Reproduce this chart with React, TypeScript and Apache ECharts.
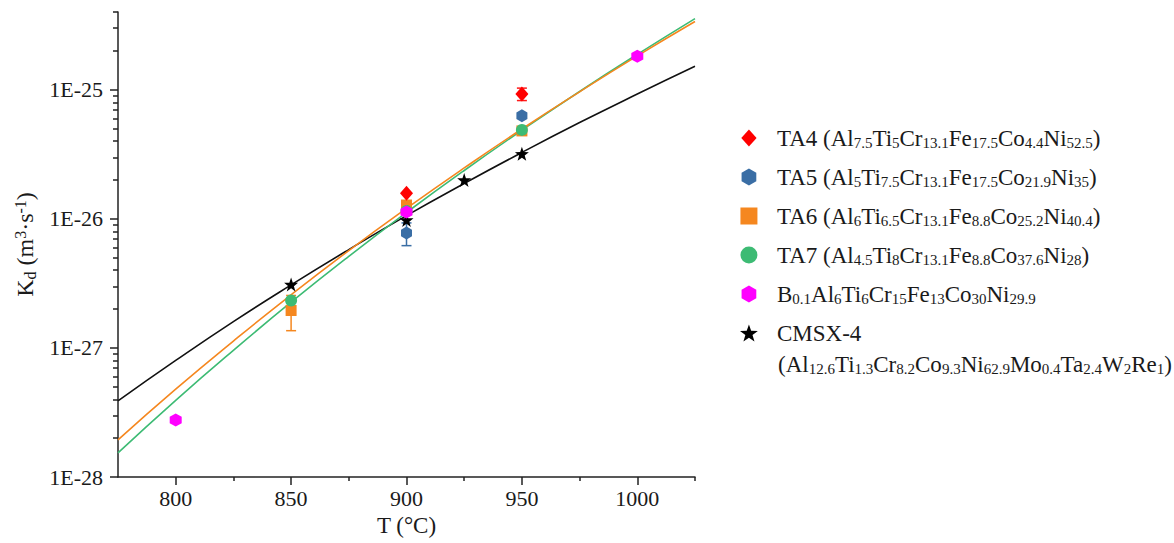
import React, { useEffect, useRef } from 'react';
import * as echarts from 'echarts';

// ---- data (K in m^3/s, T in °C) ----
const fitTemps = [775, 800, 825, 850, 875, 900, 925, 950, 975, 1000, 1025];
const fitTA6 = [1.94e-28, 4.79e-28, 1.13e-27, 2.58e-27, 5.68e-27, 1.205e-26, 2.48e-26, 4.97e-26, 9.64e-26, 1.83e-25, 3.38e-25];
const fitTA7 = [1.54e-28, 3.93e-28, 9.59e-28, 2.26e-27, 5.12e-27, 1.12e-26, 2.37e-26, 4.86e-26, 9.7e-26, 1.88e-25, 3.56e-25];
const fitCMSX4 = [3.89e-28, 8.0e-28, 1.6e-27, 3.08e-27, 5.78e-27, 1.06e-26, 1.88e-26, 3.27e-26, 5.57e-26, 9.27e-26, 1.52e-25];

const ta4T = [900, 950];
const ta4K = [1.58e-26, 9.26e-26];
const ta5T = [900, 950];
const ta5K = [7.78e-27, 6.28e-26];
const ta6T = [850, 900, 950];
const ta6K = [1.95e-27, 1.28e-26, 4.8e-26];
const ta7T = [850, 900, 950];
const ta7K = [2.33e-27, 1.15e-26, 4.89e-26];
const bT = [800, 900, 1000];
const bK = [2.77e-28, 1.13e-26, 1.82e-25];
const cmsxT = [850, 900, 925, 950];
const cmsxK = [3.1e-27, 9.8e-27, 2.0e-26, 3.19e-26];

// error bars: [T, low, high]
const ta4Err = [[950, 8.25e-26, 1.03e-25]];
const ta5Err = [[900, 6.2e-27, 9.3e-27]];
const ta6Err = [[850, 1.36e-27, 2.55e-27]];

const xTickLabels = [800, 850, 900, 950, 1000];
const xMinorTicks = [825, 875, 925, 975, 1025];
const yDecades = [-28, -27, -26, -25];
const yMax = 4e-25;

const legendLabels: Record<string, string> = {
  TA4: 'TA4 (Al{s|7.5}Ti{s|5}Cr{s|13.1}Fe{s|17.5}Co{s|4.4}Ni{s|52.5})',
  TA5: 'TA5 (Al{s|5}Ti{s|7.5}Cr{s|13.1}Fe{s|17.5}Co{s|21.9}Ni{s|35})',
  TA6: 'TA6 (Al{s|6}Ti{s|6.5}Cr{s|13.1}Fe{s|8.8}Co{s|25.2}Ni{s|40.4})',
  TA7: 'TA7 (Al{s|4.5}Ti{s|8}Cr{s|13.1}Fe{s|8.8}Co{s|37.6}Ni{s|28})',
  B: 'B{s|0.1}Al{s|6}Ti{s|6}Cr{s|15}Fe{s|13}Co{s|30}Ni{s|29.9}',
  'CMSX-4': 'CMSX-4',
};
const cmsxComposition = '(Al{s|12.6}Ti{s|1.3}Cr{s|8.2}Co{s|9.3}Ni{s|62.9}Mo{s|0.4}Ta{s|2.4}W{s|2}Re{s|1})';

const FONT = '"Liberation Serif", "DejaVu Serif", serif';
const TXT = '#1a1a1a';

const lg = (v: number) => Math.log10(v);
const pts = (t: number[], k: number[]) => t.map((x, i) => [x, lg(k[i])]);

const HEX = 'path://M0,-1L0.866,-0.5L0.866,0.5L0,1L-0.866,0.5L-0.866,-0.5Z';
const STAR =
  'path://M0,-1L0.235,-0.324L0.951,-0.309L0.38,0.124L0.588,0.809L0,0.4L-0.588,0.809L-0.38,0.124L-0.951,-0.309L-0.235,-0.324Z';
const DIAMOND = 'path://M0,-1L0.9,0L0,1L-0.9,0Z';
const SQUARE = 'path://M0,0L1,0L1,1L0,1Z';
const CIRCLE = 'path://M1,0A1,1,0,1,1,-1,0A1,1,0,1,1,1,0Z';

const subRich = {
  s: { fontSize: 15, fontFamily: FONT, color: TXT, lineHeight: 10, verticalAlign: 'bottom' },
};

function errSeries(data: number[][], color: string) {
  return {
    type: 'custom',
    data: data.map((d) => [d[0], lg(d[1]), lg(d[2])]),
    encode: { x: 0, y: [1, 2] },
    z: 3,
    renderItem: (_p: any, api: any) => {
      const x = api.value(0);
      const lo = api.coord([x, api.value(1)]);
      const hi = api.coord([x, api.value(2)]);
      const hw = 5;
      const style = { stroke: color, lineWidth: 1.5 };
      return {
        type: 'group',
        children: [
          { type: 'line', shape: { x1: lo[0], y1: lo[1], x2: hi[0], y2: hi[1] }, style },
          { type: 'line', shape: { x1: lo[0] - hw, y1: lo[1], x2: lo[0] + hw, y2: lo[1] }, style },
          { type: 'line', shape: { x1: hi[0] - hw, y1: hi[1], x2: hi[0] + hw, y2: hi[1] }, style },
        ],
      };
    },
  };
}

function minorLogTicks(): number[] {
  const out: number[] = [];
  for (let k = -28; k <= -26; k++) for (let m = 2; m <= 9; m++) out.push(k + Math.log10(m));
  for (let m = 2; m <= 4; m++) out.push(-25 + Math.log10(m));
  return out;
}

export default function App() {
  const ref = useRef<HTMLDivElement>(null);
  useEffect(() => {
    if (!ref.current) return;
    const chart = echarts.init(ref.current, null, { renderer: 'svg' });
    const yMaxLog = lg(yMax) + 0.0005;
    const axisLineStyle = { color: '#222', width: 1.5 };
    const option: any = {
      animation: false,
      backgroundColor: '#fff',
      textStyle: { fontFamily: FONT },
      grid: { left: 118, right: 479, top: 12, bottom: 66, containLabel: false },
      xAxis: [
        {
          type: 'value',
          position: 'bottom',
          min: 775,
          max: 1025,
          name: 'T (°C)',
          nameLocation: 'middle',
          nameGap: 32,
          nameTextStyle: { fontSize: 23, fontFamily: FONT, color: TXT },
          axisLine: { show: true, onZero: false, lineStyle: axisLineStyle },
          axisTick: { show: true, inside: false, length: 8, customValues: xTickLabels, lineStyle: axisLineStyle },
          axisLabel: {
            customValues: xTickLabels,
            fontSize: 22,
            fontFamily: FONT,
            color: TXT,
            margin: 10,
            formatter: (v: number) => String(v),
          },
          splitLine: { show: false },
        },
        {
          type: 'value',
          position: 'bottom',
          min: 775,
          max: 1025,
          axisLine: { show: false, onZero: false },
          axisTick: { show: true, inside: false, length: 4, customValues: xMinorTicks, lineStyle: axisLineStyle },
          axisLabel: { show: false },
          splitLine: { show: false },
        },
      ],
      yAxis: [
        {
          type: 'value',
          position: 'left',
          min: -28,
          max: yMaxLog,
          name: 'K{d|d} (m{u|3}·s{u|-1})',
          nameLocation: 'middle',
          nameGap: 80,
          nameTextStyle: {
            fontSize: 24,
            fontFamily: FONT,
            color: TXT,
            lineHeight: 26,
            rich: {
              d: { fontSize: 16, fontFamily: FONT, color: TXT, lineHeight: 10, verticalAlign: 'bottom' },
              u: { fontSize: 16, fontFamily: FONT, color: TXT, lineHeight: 16, verticalAlign: 'top' },
            },
          },
          axisLine: { show: true, onZero: false, lineStyle: axisLineStyle },
          axisTick: { show: true, inside: false, length: 8, customValues: yDecades, lineStyle: axisLineStyle },
          axisLabel: {
            customValues: yDecades,
            fontSize: 22,
            fontFamily: FONT,
            color: TXT,
            margin: 15,
            formatter: (v: number) => '1E' + Math.round(v),
          },
          splitLine: { show: false },
        },
        {
          type: 'value',
          position: 'left',
          min: -28,
          max: yMaxLog,
          axisLine: { show: false, onZero: false },
          axisTick: { show: true, inside: false, length: 5, customValues: minorLogTicks(), lineStyle: axisLineStyle },
          axisLabel: { show: false },
          splitLine: { show: false },
        },
      ],
      legend: {
        orient: 'vertical',
        left: 740,
        top: 126,
        padding: 0,
        itemWidth: 46,
        itemHeight: 17,
        itemGap: 15,
        selectedMode: false,
        symbolKeepAspect: true,
        data: [
          { name: 'TA4', icon: DIAMOND },
          { name: 'TA5', icon: HEX },
          { name: 'TA6', icon: SQUARE },
          { name: 'TA7', icon: CIRCLE },
          { name: 'B', icon: HEX },
          { name: 'CMSX-4', icon: STAR },
        ],
        formatter: (name: string) => legendLabels[name] || name,
        textStyle: { fontSize: 23, fontFamily: FONT, color: TXT, lineHeight: 24, rich: subRich },
      },
      graphic: [
        {
          type: 'text',
          left: 778,
          top: 352,
          style: {
            text: cmsxComposition,
            fontSize: 23,
            fontFamily: FONT,
            fill: TXT,
            lineHeight: 24,
            rich: subRich,
          },
        },
      ],
      series: [
        {
          type: 'line',
          name: 'CMSX-4 fit',
          data: pts(fitTemps, fitCMSX4),
          showSymbol: false,
          smooth: true,
          lineStyle: { color: '#111', width: 1.6 },
          z: 1,
        },
        {
          type: 'line',
          name: 'TA7 fit',
          data: pts(fitTemps, fitTA7),
          showSymbol: false,
          smooth: true,
          lineStyle: { color: '#3dbb74', width: 1.6 },
          z: 1,
        },
        {
          type: 'line',
          name: 'TA6 fit',
          data: pts(fitTemps, fitTA6),
          showSymbol: false,
          smooth: true,
          lineStyle: { color: '#f5871f', width: 1.6 },
          z: 1,
        },
        errSeries(ta4Err, '#ff1a1a'),
        errSeries(ta5Err, '#3a6ea5'),
        errSeries(ta6Err, '#f5871f'),
        {
          type: 'scatter',
          name: 'TA5',
          data: pts(ta5T, ta5K),
          symbol: HEX,
          symbolSize: [11, 13],
          itemStyle: { color: '#3a6ea5', opacity: 1 },
          z: 4,
        },
        {
          type: 'scatter',
          name: 'TA6',
          data: pts(ta6T, ta6K),
          symbol: 'rect',
          symbolSize: 11,
          itemStyle: { color: '#f5871f', opacity: 1 },
          z: 4,
        },
        {
          type: 'scatter',
          name: 'TA7',
          data: pts(ta7T, ta7K),
          symbol: 'circle',
          symbolSize: 12,
          itemStyle: { color: '#3dbb74', opacity: 1 },
          z: 4,
        },
        {
          type: 'scatter',
          name: 'CMSX-4',
          data: pts(cmsxT, cmsxK),
          symbol: STAR,
          symbolSize: 14,
          itemStyle: { color: '#000', opacity: 1 },
          z: 4,
        },
        {
          type: 'scatter',
          name: 'TA4',
          data: pts(ta4T, ta4K),
          symbol: 'diamond',
          symbolSize: [13, 15],
          itemStyle: { color: '#ff0000', opacity: 1 },
          z: 4,
        },
        {
          type: 'scatter',
          name: 'B',
          data: pts(bT, bK),
          symbol: HEX,
          symbolSize: [12, 13],
          itemStyle: { color: '#ff00ff', opacity: 1 },
          z: 4,
        },
      ],
    };
    chart.setOption(option);
    return () => chart.dispose();
  }, []);
  return (
    <div
      ref={ref}
      style={{ position: 'absolute', left: 0, top: 0, width: 1174, height: 543, background: '#fff' }}
    />
  );
}
